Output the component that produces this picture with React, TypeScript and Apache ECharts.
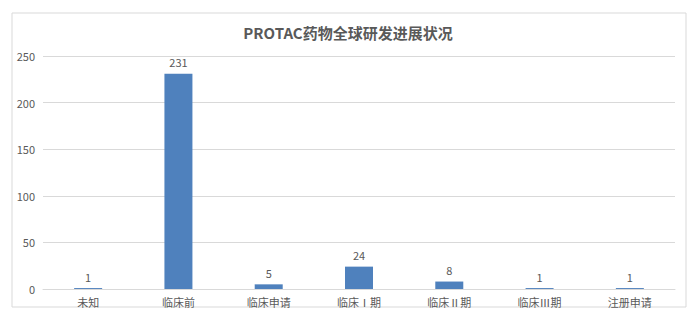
import React, { useEffect, useRef } from "react";
import * as echarts from "echarts";

const categories = ["未知", "临床前", "临床申请", "临床Ⅰ期", "临床Ⅱ期", "临床Ⅲ期", "注册申请"];
const values = [1, 231, 5, 24, 8, 1, 1];
const yTicks = [0, 50, 100, 150, 200, 250];
const title = "PROTAC药物全球研发进展状况";

const FONT = "'Noto Sans CJK SC', 'Microsoft YaHei', sans-serif";

export default function App() {
  const ref = useRef<HTMLDivElement>(null);
  useEffect(() => {
    if (!ref.current) return;
    const chart = echarts.init(ref.current, null, { renderer: "svg" });
    chart.setOption({
      animation: false,
      backgroundColor: "#ffffff",
      title: {
        text: title,
        left: "center",
        top: 20,
        textStyle: { fontFamily: FONT, fontSize: 15, fontWeight: "bold", color: "#595959" },
      },
      graphic: [
        {
          type: "rect",
          shape: { x: 12, y: 13, width: 674, height: 294 },
          style: { fill: "none", stroke: "#d9d9d9", lineWidth: 1 },
          silent: true,
        },
      ],
      grid: { left: 43, right: 21, top: 56, bottom: 32, containLabel: false },
      xAxis: {
        type: "category",
        data: categories,
        axisLine: { lineStyle: { color: "#d9d9d9" } },
        axisTick: { show: false },
        axisLabel: { fontFamily: FONT, fontSize: 11, color: "#595959", margin: 7 },
      },
      yAxis: {
        type: "value",
        min: yTicks[0],
        max: yTicks[yTicks.length - 1],
        interval: 50,
        axisLine: { show: false },
        axisTick: { show: false },
        splitLine: { lineStyle: { color: "#d9d9d9" } },
        axisLabel: { fontFamily: FONT, fontSize: 11, color: "#595959", margin: 8 },
      },
      series: [
        {
          type: "bar",
          data: values,
          barWidth: 28,
          itemStyle: { color: "#4f81bd" },
          label: {
            show: true,
            position: "top",
            distance: 6,
            fontFamily: FONT,
            fontSize: 11,
            color: "#595959",
          },
        },
      ],
    });
    return () => chart.dispose();
  }, []);
  return <div ref={ref} style={{ position: "fixed", left: 0, top: 0, width: 696, height: 321 }} />;
}
